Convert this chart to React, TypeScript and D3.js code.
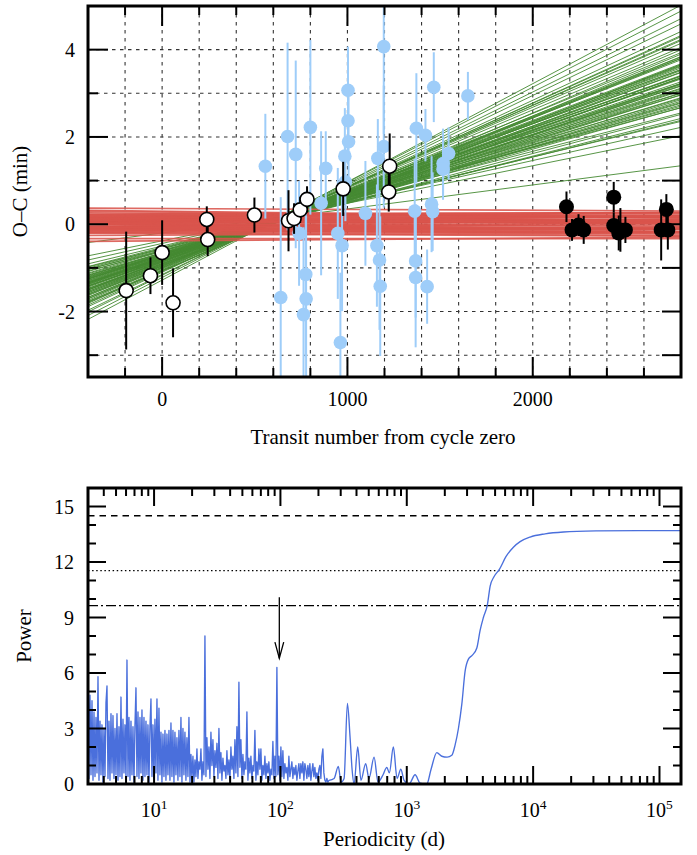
import React from 'react';
import * as d3 from 'd3';

// ---------- data: top panel (O-C) ----------
const whiteEpoch = [-194, -63, 0, 59, 241, 246, 498, 682, 712, 745, 782, 977, 1228, 1223];
const whiteOC = [-1.52, -1.18, -0.65, -1.8, 0.11, -0.35, 0.21, 0.08, 0.13, 0.33, 0.57, 0.81, 1.33, 0.74];
const whiteErr = [1.35, 0.42, 0.74, 0.79, 0.3, 0.38, 0.4, 0.7, 0.35, 0.3, 0.3, 0.62, 0.75, 0.45];

const blackEpoch = [2182, 2212, 2247, 2275, 2437, 2437, 2464, 2473, 2500, 2693, 2721, 2729];
const blackOC = [0.4, -0.13, -0.02, -0.13, 0.62, -0.03, -0.2, -0.13, -0.13, -0.13, 0.34, -0.13];
const blackErr = [0.35, 0.25, 0.25, 0.32, 0.35, 0.3, 0.4, 0.5, 0.3, 0.7, 0.35, 0.45];

const blueEpoch = [557, 677, 721, 800, 883, 858, 640, 775, 777, 763, 739, 1003, 1003, 1006, 986, 989, 948, 971, 962, 1196, 1196, 1164, 1097, 1159, 1173, 1177, 1372, 1421, 1466, 1650, 1546, 1516, 1516, 1363, 1454, 1460, 1368, 1368, 1430];
const blueOC = [1.33, 2.01, 1.6, 2.22, 1.28, 0.48, -1.68, -1.15, -1.71, -2.07, -0.21, 3.07, 2.37, 1.89, 1.56, 0.97, -0.21, -0.49, -2.71, 4.07, 1.78, 1.51, 0.25, -0.49, -0.82, -1.42, 2.2, 2.04, 3.14, 2.94, 1.62, 1.39, 1.26, 0.3, 0.46, 0.29, -0.84, -1.22, -1.43];
const blueErr = [1.2, 2.15, 2.15, 2.0, 0.85, 1.65, 2.3, 1.9, 1.9, 2.0, 1.2, 1.0, 1.0, 1.2, 1.1, 0.9, 1.5, 1.5, 1.6, 2.0, 1.4, 0.9, 1.2, 1.4, 1.6, 1.6, 1.26, 0.6, 0.8, 0.55, 0.6, 0.8, 0.7, 1.2, 1.1, 0.9, 1.3, 1.6, 0.85];

// linear ephemeris samples: intercept (min at epoch 0), slope (min per 1000 epochs)
const greenSlope = [1.62, 1.35, 1.48, 1.21, 1.77, 1.55, 1.4, 1.08, 1.91, 1.3, 1.66, 1.44, 1.25, 1.83, 1.52, 1.15, 1.7, 1.38, 1.59, 1.97, 1.28, 1.49, 1.12, 1.73, 1.41, 1.6, 1.33, 1.86, 1.02, 1.56, 1.45, 1.19, 1.68, 1.36, 2.05, 1.51, 1.24, 1.79, 1.42, 0.95, 1.63, 1.31, 1.88, 1.47, 1.17, 1.57, 2.18, 1.39, 1.74, 1.26, 0.55, 1.53, 1.1, 1.81, 1.43, 2.25, 1.34, 1.65, 0.86, 1.5, 1.22, 1.71, 1.46, 1.93, 1.37, 1.58, 1.29, 2.1, 1.05, 1.61];
const greenIntercept = [-0.86, -0.78, -0.75, -0.6, -1.06, -0.8, -0.7, -0.6, -1.05, -0.74, -0.88, -0.83, -0.62, -0.98, -0.9, -0.55, -0.92, -0.7, -0.93, -1.1, -0.73, -0.78, -0.62, -1.01, -0.72, -0.85, -0.76, -1.0, -0.5, -0.82, -0.84, -0.66, -0.9, -0.69, -1.15, -0.87, -0.7, -0.96, -0.8, -0.44, -0.95, -0.66, -1.03, -0.77, -0.57, -0.91, -1.22, -0.79, -0.94, -0.71, -0.2, -0.81, -0.53, -1.07, -0.74, -1.28, -0.68, -0.96, -0.38, -0.79, -0.68, -0.99, -0.76, -1.08, -0.78, -0.84, -0.65, -1.17, -0.56, -0.86];

const redIntercept = [0.12, -0.05, 0.2, 0.02, -0.15, 0.08, 0.25, -0.1, 0.15, -0.02, 0.05, -0.2, 0.18, 0.0, -0.08, 0.22, 0.1, -0.12, 0.06, -0.03, 0.14, -0.18, 0.28, 0.03, -0.06, 0.17, -0.14, 0.09, -0.01, 0.21, 0.04, -0.22, 0.13, -0.09, 0.07, 0.19, -0.04, 0.11, -0.16, 0.01, 0.24, -0.07, 0.16, -0.11, 0.08, -0.25, 0.3, 0.05, -0.13, 0.1, -0.38, 0.36, -0.33];
const redSlope = [-0.02, 0.03, -0.04, 0.01, -0.01, 0.04, -0.03, 0.0, 0.02, -0.05, 0.01, -0.02, 0.03, -0.04, 0.0, 0.02, -0.03, 0.01, -0.01, 0.04, -0.02, 0.0, -0.05, 0.02, -0.01, 0.03, -0.03, 0.01, -0.04, 0.0, 0.02, -0.02, 0.01, -0.03, 0.04, -0.01, 0.0, -0.04, 0.02, -0.02, 0.01, 0.03, -0.03, 0.0, -0.01, 0.02, -0.05, 0.01, -0.02, 0.03, 0.03, -0.02, 0.0];

const topXTicks = [0, 1000, 2000];
const topYTicks = [4, 2, 0, -2];

// ---------- data: bottom panel (periodogram) ----------
const specLogStart = 0.4771; // log10(3 d)
const specLogStep = 0.00791;
const specNoise = [
  7.2, 0.3, 4.8, 0.5, 4.5, 0.2, 3.9, 0.4, 3.6, 0.6,
  5.8, 0.2, 3.4, 0.5, 3.2, 0.1, 3.0, 0.4, 4.4, 5.3,
  0.3, 3.4, 0.2, 3.8, 0.6, 3.7, 0.3, 3.0, 0.5, 3.8,
  0.2, 3.1, 0.4, 4.7, 0.3, 3.5, 0.6, 3.2, 0.2, 6.7,
  0.4, 3.6, 0.2, 3.4, 0.5, 3.1, 0.1, 3.2, 5.2, 0.4,
  3.9, 0.3, 3.6, 0.6, 4.0, 0.2, 3.6, 0.4, 3.4, 0.5,
  3.2, 0.1, 3.1, 4.6, 0.4, 3.2, 0.3, 3.5, 0.6, 4.6,
  0.2, 4.1, 0.5, 2.8, 0.1, 2.7, 0.4, 2.9, 0.2, 2.7,
  0.5, 2.9, 0.2, 3.3, 0.4, 2.9, 0.1, 2.8, 0.5, 2.5,
  0.2, 2.9, 0.4, 3.6, 0.1, 3.0, 0.5, 2.8, 0.2, 2.5,
  0.4, 3.6, 0.1, 1.6, 0.3, 1.5, 0.1, 1.3, 0.4, 1.9,
  0.3, 1.2, 0.8, 1.9, 0.2, 1.2, 0.5, 8.0, 0.4, 2.5,
  0.8, 2.0, 0.3, 2.8, 1.0, 2.4, 0.4, 1.8, 0.9, 2.2,
  0.3, 3.0, 0.6, 1.7, 0.2, 1.4, 0.7, 1.0, 0.3, 1.8,
  0.5, 1.3, 0.2, 2.0, 0.8, 1.5, 0.3, 2.4, 0.6, 3.1,
  0.4, 5.5, 0.9, 2.4, 0.3, 1.6, 0.5, 1.2, 0.8, 3.9,
  0.2, 1.4, 0.6, 1.5, 0.3, 1.0, 0.7, 2.9, 0.2, 1.2,
  0.5, 1.9, 0.8, 1.9, 0.2, 1.0, 0.5, 1.5, 0.3, 1.1,
  0.6, 1.2, 0.2, 0.8, 0.5, 2.3, 0.3, 1.5, 0.4, 6.3,
  0.5, 1.5, 0.2, 2.0, 0.4, 1.8, 0.3, 1.1, 0.6, 0.9,
  0.2, 1.5, 0.4, 0.8, 1.2, 0.3, 0.9, 0.5, 1.0, 0.2,
  0.7, 1.1, 0.3, 1.1, 0.6, 1.2, 0.2, 1.1, 0.8, 0.3,
  1.0, 0.4, 1.1, 0.2, 0.7, 1.1, 0.4, 0.9, 0.3, 0.6,
  0.2, 0.8, 1.0, 0.3, 1.5, 1.9, 0.6, 0.2, 0.1, 0.3,
  0.1, 0.2,
];
const smoothPeriod = [266, 287, 302, 319, 339, 356, 369, 383, 409, 434, 473, 502, 551, 592, 649, 695, 728, 783, 838, 897, 952, 1043, 1164, 1274, 1439, 1557, 1728, 1893, 2085, 2272, 2411, 2563, 2725, 2895, 3075, 3290, 3584, 3805, 4040, 4347, 4570, 4900, 5406, 6108, 6980, 7890, 9465, 12440, 17380, 32130, 70310, 148000];
const smoothPower = [0.3, 0.95, 0.1, 0.3, 4.35, 2.5, 0.8, 0.0, 2.0, 0.2, 1.1, 0.3, 1.45, 0.1, 0.5, 0.9, 0.6, 2.0, 0.3, 0.8, 0.2, 0.0, 0.5, 0.05, 0.0, 0.8, 1.7, 1.5, 1.45, 1.55, 2.1, 3.0, 4.3, 6.1, 6.75, 6.95, 7.35, 8.3, 9.0, 9.7, 10.7, 11.2, 11.6, 12.3, 12.8, 13.1, 13.35, 13.52, 13.62, 13.68, 13.7, 13.7];

const fapLevels = [14.5, 11.53, 9.64];
const fapDash = ['6.5,5', '1.5,2.6', '10,3,2,3'];
const botYTicks = [0, 3, 6, 9, 12, 15];
const botXDecades = [1, 2, 3, 4, 5];
const arrowPeriod = 98;
const arrowTop = 10.1;
const arrowTip = 6.8;

// ---------- layout ----------
const W = 697, H = 855;
const T = { l: 88, r: 681, t: 6, b: 377 };
const B = { l: 88, r: 681, t: 488, b: 784 };
const FONT = '"Liberation Serif", "Times New Roman", serif';

const xTop = d3.scaleLinear().domain([-400, 2800]).range([T.l, T.r]);
const yTop = d3.scaleLinear().domain([-3.5, 5]).range([T.b, T.t]);
const xBot = d3.scaleLog().domain([3, 148000]).range([B.l, B.r]);
const yBot = d3.scaleLinear().domain([0, 16]).range([B.b, B.t]);

const BLUE_PT = '#9ecdf9';
const GREEN = '#458a32';
const RED = '#d9544c';
const SPEC = '#4a6fdc';

export default function App() {
  const xGrid = d3.range(-200, 2800, 200);
  const yGrid = d3.range(-3, 5, 1);
  const xTickAll = d3.range(-400, 2801, 200);
  const yTickAll = d3.range(-3, 5, 1);

  const noisePts: [number, number][] = specNoise.map((p, i) => [Math.pow(10, specLogStart + i * specLogStep), p]);
  const smoothPts: [number, number][] = [noisePts[noisePts.length - 1], ...smoothPeriod.map((p, i) => [p, smoothPower[i]] as [number, number])];
  const lineLin = d3.line<[number, number]>().x(d => xBot(d[0])).y(d => yBot(d[1]));
  const lineSmooth = d3.line<[number, number]>().x(d => xBot(d[0])).y(d => yBot(d[1])).curve(d3.curveMonotoneX);

  const logTicks: { v: number; major: boolean }[] = [];
  for (let d = 0; d <= 5; d++) {
    for (let k = 1; k <= 9; k++) {
      const v = k * Math.pow(10, d);
      if (v > 3 && v < 148000) logTicks.push({ v, major: k === 1 });
    }
  }
  const botYMinor = d3.range(1, 16, 1);

  const ax = xBot(arrowPeriod);
  const aTop = yBot(arrowTop);
  const aTip = yBot(arrowTip);

  return (
    <svg width={W} height={H} style={{ position: 'absolute', left: 0, top: 0 }} fontFamily={FONT}>
      <defs>
        <clipPath id="clipTop"><rect x={T.l} y={T.t} width={T.r - T.l} height={T.b - T.t} /></clipPath>
        <clipPath id="clipBot"><rect x={B.l} y={B.t} width={B.r - B.l} height={B.b - B.t} /></clipPath>
      </defs>
      <rect x={0} y={0} width={W} height={H} fill="#fff" />

      {/* ===== TOP PANEL ===== */}
      <g stroke="#333" strokeWidth={1.1} strokeDasharray="3.5,4.5">
        {xGrid.map(v => <line key={'gx' + v} x1={xTop(v)} x2={xTop(v)} y1={T.t} y2={T.b} />)}
        {yGrid.map(v => <line key={'gy' + v} x1={T.l} x2={T.r} y1={yTop(v)} y2={yTop(v)} />)}
      </g>

      <g clipPath="url(#clipTop)">
        <g stroke={GREEN} strokeWidth={1} strokeOpacity={0.9} fill="none">
          {greenSlope.map((m, i) => (
            <line key={'g' + i} x1={xTop(-400)} y1={yTop(greenIntercept[i] + m * -0.4)} x2={xTop(2800)} y2={yTop(greenIntercept[i] + m * 2.8)} />
          ))}
        </g>
        <g stroke={RED} strokeWidth={1.6} strokeOpacity={0.88} fill="none">
          {redSlope.map((m, i) => (
            <line key={'r' + i} x1={xTop(-400)} y1={yTop(redIntercept[i] + m * -0.4)} x2={xTop(2800)} y2={yTop(redIntercept[i] + m * 2.8)} />
          ))}
        </g>

        {/* blue points */}
        <g stroke={BLUE_PT} strokeWidth={2}>
          {blueEpoch.map((e, i) => (
            <line key={'be' + i} x1={xTop(e)} x2={xTop(e)} y1={yTop(blueOC[i] - blueErr[i])} y2={yTop(blueOC[i] + blueErr[i])} />
          ))}
        </g>
        <g fill={BLUE_PT}>
          {blueEpoch.map((e, i) => <circle key={'bc' + i} cx={xTop(e)} cy={yTop(blueOC[i])} r={6.8} />)}
        </g>

        {/* white points */}
        <g stroke="#000" strokeWidth={2}>
          {whiteEpoch.map((e, i) => (
            <line key={'we' + i} x1={xTop(e)} x2={xTop(e)} y1={yTop(whiteOC[i] - whiteErr[i])} y2={yTop(whiteOC[i] + whiteErr[i])} />
          ))}
        </g>
        <g fill="#fff" stroke="#000" strokeWidth={1.6}>
          {whiteEpoch.map((e, i) => <circle key={'wc' + i} cx={xTop(e)} cy={yTop(whiteOC[i])} r={7} />)}
        </g>

        {/* black points */}
        <g stroke="#000" strokeWidth={2}>
          {blackEpoch.map((e, i) => (
            <line key={'ke' + i} x1={xTop(e)} x2={xTop(e)} y1={yTop(blackOC[i] - blackErr[i])} y2={yTop(blackOC[i] + blackErr[i])} />
          ))}
        </g>
        <g fill="#000">
          {blackEpoch.map((e, i) => <circle key={'kc' + i} cx={xTop(e)} cy={yTop(blackOC[i])} r={7.5} />)}
        </g>
      </g>

      {/* top ticks */}
      <g stroke="#000" strokeWidth={2}>
        {xTickAll.filter(v => v > -400 && v < 2800).map(v => {
          const L = v % 1000 === 0 ? 20 : 9;
          return (
            <g key={'xt' + v}>
              <line x1={xTop(v)} x2={xTop(v)} y1={T.b} y2={T.b - L} />
              <line x1={xTop(v)} x2={xTop(v)} y1={T.t} y2={T.t + L} />
            </g>
          );
        })}
        {yTickAll.map(v => {
          const L = v % 2 === 0 ? 20 : 10;
          return (
            <g key={'yt' + v}>
              <line x1={T.l} x2={T.l + L} y1={yTop(v)} y2={yTop(v)} />
              <line x1={T.r} x2={T.r - 19} y1={yTop(v)} y2={yTop(v)} />
            </g>
          );
        })}
      </g>
      <rect x={T.l} y={T.t} width={T.r - T.l} height={T.b - T.t} fill="none" stroke="#000" strokeWidth={3} />

      <g fontSize={20} fill="#000">
        {topXTicks.map(v => <text key={'xl' + v} x={xTop(v)} y={406} textAnchor="middle">{v}</text>)}
        {topYTicks.map(v => <text key={'yl' + v} x={75} y={yTop(v)} dy="0.35em" textAnchor="end">{v}</text>)}
      </g>
      <text x={383} y={444} fontSize={21} textAnchor="middle">Transit number from cycle zero</text>
      <text transform={`translate(27,${(T.t + T.b) / 2}) rotate(-90)`} fontSize={21} textAnchor="middle">O–C (min)</text>

      {/* ===== BOTTOM PANEL ===== */}
      <g stroke="#000" strokeWidth={1.3} fill="none">
        {fapLevels.map((v, i) => (
          <line key={'fap' + i} x1={B.l} x2={B.r} y1={yBot(v)} y2={yBot(v)} strokeDasharray={fapDash[i]} />
        ))}
      </g>

      <g clipPath="url(#clipBot)" fill="none" stroke={SPEC} strokeWidth={1.35} strokeLinejoin="round">
        <path d={lineLin(noisePts) || ''} />
        <path d={lineSmooth(smoothPts) || ''} />
      </g>

      {/* arrow */}
      <g stroke="#000" strokeWidth={1.3} fill="none">
        <line x1={ax} x2={ax} y1={aTop} y2={aTip} />
        <polyline points={`${ax - 4.4},${aTip - 16} ${ax},${aTip} ${ax + 4.4},${aTip - 16}`} />
      </g>

      {/* bottom ticks */}
      <g stroke="#000" strokeWidth={2}>
        {logTicks.map(t => {
          const L = t.major ? 18 : 8;
          return (
            <g key={'lt' + t.v}>
              <line x1={xBot(t.v)} x2={xBot(t.v)} y1={B.b} y2={B.b - L} />
              <line x1={xBot(t.v)} x2={xBot(t.v)} y1={B.t} y2={B.t + L} />
            </g>
          );
        })}
        {botYMinor.map(v => {
          const L = v % 3 === 0 ? 18 : 8;
          return (
            <g key={'by' + v}>
              <line x1={B.l} x2={B.l + L} y1={yBot(v)} y2={yBot(v)} />
              <line x1={B.r} x2={B.r - L} y1={yBot(v)} y2={yBot(v)} />
            </g>
          );
        })}
      </g>
      <rect x={B.l} y={B.t} width={B.r - B.l} height={B.b - B.t} fill="none" stroke="#000" strokeWidth={3} />

      <g fontSize={20} fill="#000">
        {botYTicks.map(v => <text key={'byl' + v} x={74} y={yBot(v)} dy="0.35em" textAnchor="end">{v}</text>)}
        {botXDecades.map(d => (
          <text key={'bxl' + d} x={xBot(Math.pow(10, d))} y={817} textAnchor="middle">
            10<tspan fontSize={13.5} dy={-8}>{d}</tspan>
          </text>
        ))}
      </g>
      <text x={384} y={846} fontSize={21} textAnchor="middle">Periodicity (d)</text>
      <text transform={`translate(31,${(B.t + B.b) / 2}) rotate(-90)`} fontSize={21} textAnchor="middle">Power</text>
    </svg>
  );
}
